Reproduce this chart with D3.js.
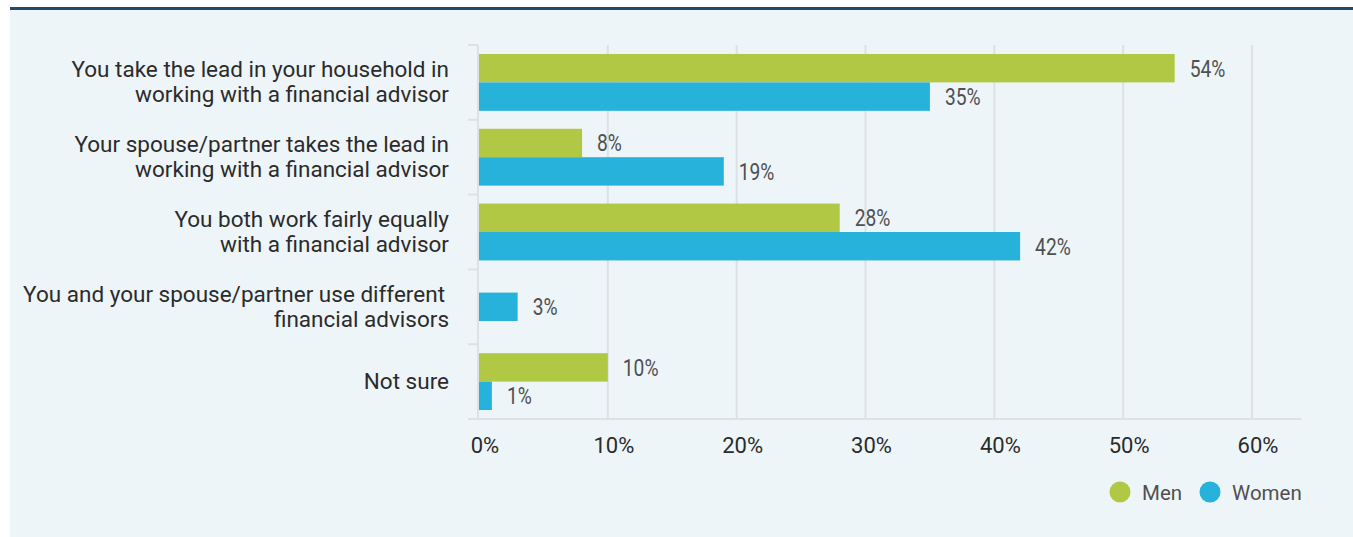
<!DOCTYPE html>
<html>
<head>
<meta charset="utf-8">
<script src="https://cdn.jsdelivr.net/npm/d3@7"></script>
<style>
  html, body { margin: 0; padding: 0; background: #ffffff; }
  svg { display: block; }
  text { font-family: Roboto, "Noto Sans", sans-serif; }
</style>
</head>
<body>
<svg id="chart" width="1353" height="537"></svg>
<script>
// Survey answers: who leads the work with a financial advisor
const categories = [
  ["You take the lead in your household in", "working with a financial advisor"],
  ["Your spouse/partner takes the lead in", "working with a financial advisor"],
  ["You both work fairly equally", "with a financial advisor"],
  ["You and your spouse/partner use different", "financial advisors"],
  ["Not sure"]
];
const seriesNames = ["Men", "Women"];
const menValues = [54, 8, 28, null, 10];
const womenValues = [35, 19, 42, 3, 1];
const tickValues = [0, 10, 20, 30, 40, 50, 60];

const colors = { Men: "#b1c844", Women: "#27b2dc" };

const W = 1353, H = 537;
const svg = d3.select("#chart");

// Panel background and top rule
svg.append("rect").attr("x", 10).attr("y", 9).attr("width", W - 10).attr("height", H - 9)
  .attr("fill", "#eef5f9");
svg.append("rect").attr("x", 10).attr("y", 7).attr("width", W - 10).attr("height", 3)
  .attr("fill", "#1d4b69");

const plot = { left: 479, right: 1252, top: 45, bottom: 419 };

const x = d3.scaleLinear().domain([0, 60]).range([plot.left, plot.right]);
const y = d3.scaleBand().domain(d3.range(categories.length))
  .range([plot.top, plot.bottom]).paddingInner(0.24).paddingOuter(0.12);
const yBand = d3.scaleBand().domain(d3.range(categories.length))
  .range([plot.top, plot.bottom]);

// Vertical gridlines
const grid = svg.append("g");
grid.selectAll("line").data(tickValues.slice(1)).join("line")
  .attr("x1", d => x(d)).attr("x2", d => x(d))
  .attr("y1", plot.top).attr("y2", plot.bottom)
  .attr("stroke", "#dde1e4").attr("stroke-width", 2);

// Category axis (left) with boundary ticks
const catAxis = svg.append("g");
catAxis.append("line")
  .attr("x1", plot.left - 1).attr("x2", plot.left - 1)
  .attr("y1", plot.top).attr("y2", plot.bottom)
  .attr("stroke", "#dde1e4").attr("stroke-width", 2);
const boundaries = d3.range(categories.length + 1).map(i =>
  i < categories.length ? yBand(i) : plot.bottom);
catAxis.selectAll("line.tick").data(boundaries).join("line").attr("class", "tick")
  .attr("x1", plot.left - 11).attr("x2", plot.left - 1)
  .attr("y1", d => d).attr("y2", d => d)
  .attr("stroke", "#dde1e4").attr("stroke-width", 2);

// Bottom axis line
svg.append("line")
  .attr("x1", plot.left - 11).attr("x2", 1301)
  .attr("y1", plot.bottom).attr("y2", plot.bottom)
  .attr("stroke", "#dde1e4").attr("stroke-width", 2);

// Value-axis tick labels
svg.append("g").selectAll("text").data(tickValues).join("text")
  .attr("x", d => x(d) + 6).attr("y", 453)
  .attr("text-anchor", "middle")
  .attr("font-size", 22).attr("fill", "#2b2b2b")
  .text(d => d + "%");

// Category labels
const catLabels = svg.append("g");
categories.forEach((lines, i) => {
  const cy = yBand(i) + yBand.bandwidth() / 2;
  const lh = 25;
  const t = catLabels.append("text")
    .attr("text-anchor", "end").attr("font-size", 22.5)
    .attr("fill", "#2b2b2b");
  lines.forEach((ln, j) => {
    t.append("tspan")
      .attr("x", i === 3 && j === 0 ? 445 : 449)
      .attr("y", cy + 7.5 + (j - (lines.length - 1) / 2) * lh)
      .text(ln);
  });
});

// Bars
const rows = categories.map((c, i) => ({
  i, values: [menValues[i], womenValues[i]]
}));
const barH = y.bandwidth() / 2;
const bars = svg.append("g");
const labels = svg.append("g");
rows.forEach(r => {
  const present = seriesNames.map((s, k) => ({ s, v: r.values[k], k }))
    .filter(d => d.v !== null);
  const cy = yBand(r.i) + yBand.bandwidth() / 2;
  const top = cy - (present.length * barH) / 2;
  present.forEach((d, j) => {
    const by = top + j * barH;
    bars.append("rect")
      .attr("x", x(0)).attr("y", by)
      .attr("width", x(d.v) - x(0)).attr("height", barH)
      .attr("fill", colors[d.s]);
    const lx = x(d.v) + 15;
    labels.append("text")
      .attr("transform", `translate(${lx},${by + barH / 2 + 8.5}) scale(0.8,1)`)
      .attr("font-size", 24).attr("fill", "#505050")
      .text(d.v + "%");
  });
});

// Legend
const legend = svg.append("g");
const legendItems = [
  { name: "Men", cx: 1120, tx: 1142 },
  { name: "Women", cx: 1210, tx: 1232 }
];
legendItems.forEach(it => {
  legend.append("circle").attr("cx", it.cx).attr("cy", 492).attr("r", 10.5)
    .attr("fill", colors[it.name]);
  legend.append("text").attr("x", it.tx).attr("y", 499.5)
    .attr("font-size", 20.5).attr("fill", "#505050").text(it.name);
});
</script>
</body>
</html>
